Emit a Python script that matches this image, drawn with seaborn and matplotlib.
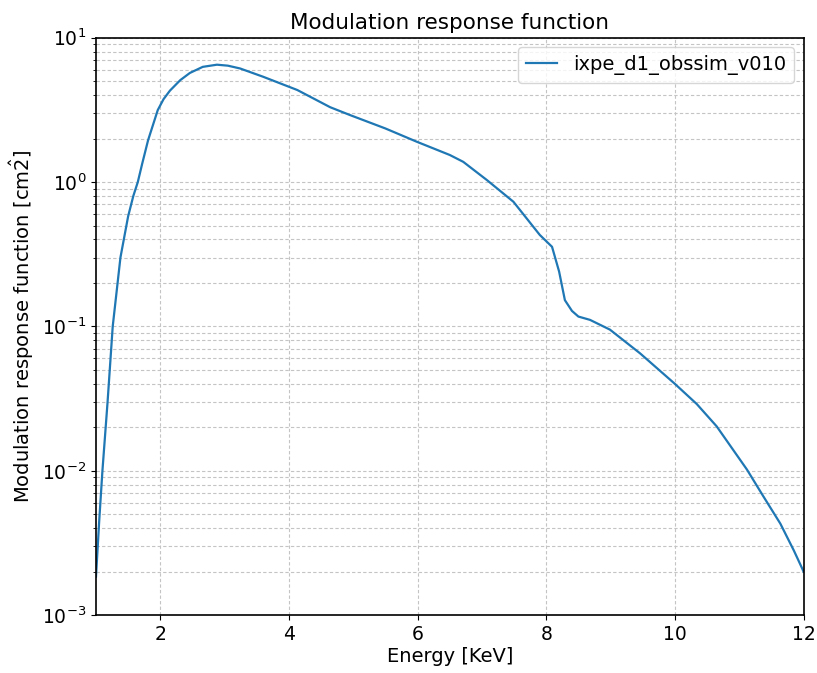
"""Modulation response function of ixpe_d1_obssim_v010, log scale."""

import matplotlib
matplotlib.use("Agg")
import matplotlib.pyplot as plt
import pandas as pd
import seaborn as sns

# values
energy = [1.00, 1.05, 1.10, 1.18, 1.26, 1.38, 1.50, 1.58, 1.65, 1.72, 1.81,
          1.96, 2.05, 2.15, 2.31, 2.46, 2.66, 2.88, 3.05, 3.24, 3.60, 4.13,
          4.64, 4.95, 5.50, 5.99, 6.50, 6.71, 7.08, 7.49, 7.90, 8.09, 8.20,
          8.29, 8.40, 8.50, 8.68, 8.99, 9.46, 10.00, 10.34, 10.65, 11.12,
          11.38, 11.64, 11.85, 11.98, 12.00]
response = [0.00185, 0.0045, 0.0100, 0.030, 0.100, 0.30, 0.58, 0.80, 1.00,
            1.35, 1.95, 3.15, 3.75, 4.30, 5.08, 5.70, 6.28, 6.50, 6.40, 6.12,
            5.36, 4.34, 3.30, 2.91, 2.35, 1.90, 1.54, 1.38, 1.03, 0.73, 0.43,
            0.356, 0.24, 0.152, 0.128, 0.117, 0.111, 0.095, 0.065, 0.040,
            0.029, 0.0203, 0.0102, 0.0066, 0.0043, 0.0028, 0.0021, 0.0020]
label = "ixpe_d1_obssim_v010"

df = pd.DataFrame({"Energy": energy, "Response": response, "name": label})

plt.rcParams["font.family"] = ["DejaVu Sans"]
plt.rcParams["font.size"] = 14

fig = plt.figure(figsize=(8.17, 6.73), dpi=100)
ax = fig.add_axes([0.1175, 0.086, 0.866, 0.858])

sns.lineplot(data=df, x="Energy", y="Response", hue="name",
             palette=["#1f77b4"], linewidth=1.6, ax=ax)

ax.set_yscale("log")
ax.set_xlim(1, 12)
ax.set_ylim(1e-3, 10)
ax.set_xticks([2, 4, 6, 8, 10, 12])
ax.tick_params(labelsize=13.5)

grid_style = dict(linestyle=(0, (3, 2)), color="#c4c4c4", linewidth=0.8)
ax.grid(which="major", axis="both", **grid_style)
ax.grid(which="minor", axis="y", **grid_style)

ax.set_title("Modulation response function", fontsize=15.5)
ax.set_xlabel("Energy [KeV]", labelpad=2)
ax.set_ylabel(r"Modulation response function [cm$\hat{2}$]")
ax.legend(loc="upper right", fontsize=14, handlelength=1.6)

for side in ax.spines.values():
    side.set_linewidth(1.2)

fig.savefig("out.png", dpi=100)
